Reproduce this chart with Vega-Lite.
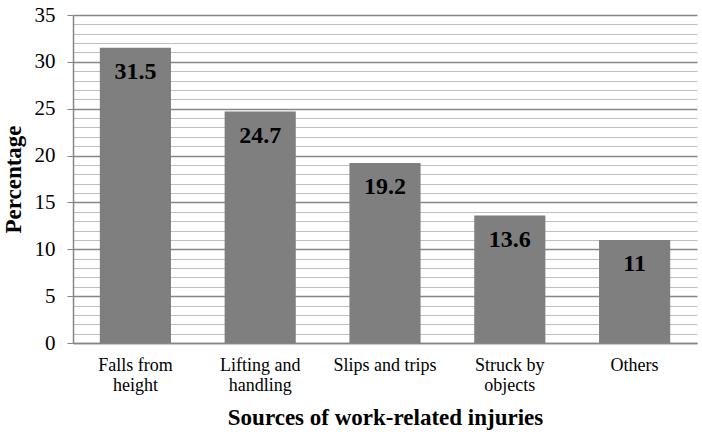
{
  "$schema": "https://vega.github.io/schema/vega-lite/v6.json",
  "autosize": {"type": "none"},
  "padding": {"left": 73, "top": 15, "right": 5, "bottom": 89},
  "width": 624,
  "height": 328,
  "background": "white",
  "config": {
    "view": {"stroke": null},
    "font": "Liberation Serif",
    "axis": {"labelFont": "Liberation Serif", "titleFont": "Liberation Serif"},
    "text": {"font": "Liberation Serif"}
  },
  "data": {
    "values": [
      {"source": "Falls from height", "pct": 31.5},
      {"source": "Lifting and handling", "pct": 24.7},
      {"source": "Slips and trips", "pct": 19.2},
      {"source": "Struck by objects", "pct": 13.6},
      {"source": "Others", "pct": 11}
    ]
  },
  "encoding": {
    "x": {
      "field": "source",
      "type": "nominal",
      "sort": null,
      "scale": {"paddingInner": 0.43, "paddingOuter": 0.215},
      "axis": {
        "title": "Sources of work-related injuries",
        "titleFont": "Liberation Serif",
        "titleFontSize": 23,
        "titleFontWeight": "bold",
        "titleColor": "black",
        "titlePadding": 12,
        "labelAngle": 0,
        "labelFont": "Liberation Serif",
        "labelFontSize": 18,
        "labelColor": "black",
        "labelLineHeight": 20,
        "labelPadding": 13,
        "labelExpr": "datum.label == 'Falls from height' ? ['Falls from', 'height'] : datum.label == 'Lifting and handling' ? ['Lifting and', 'handling'] : datum.label == 'Struck by objects' ? ['Struck by', 'objects'] : datum.label",
        "ticks": false,
        "domainColor": "#868686",
        "domainWidth": 1.5,
        "grid": false
      }
    },
    "y": {
      "field": "pct",
      "type": "quantitative",
      "scale": {"domain": [0, 35], "nice": false},
      "axis": {
        "title": "Percentage",
        "titleFont": "Liberation Serif",
        "titleFontSize": 23,
        "titleFontWeight": "bold",
        "titleColor": "black",
        "titlePadding": 9,
        "values": [0,1,2,3,4,5,6,7,8,9,10,11,12,13,14,15,16,17,18,19,20,21,22,23,24,25,26,27,28,29,30,31,32,33,34,35],
        "labelExpr": "datum.value % 5 === 0 ? datum.label : ''",
        "labelFont": "Liberation Serif",
        "labelFontSize": 21,
        "labelColor": "black",
        "labelPadding": 12,
        "labelOverlap": false,
        "tickSize": 6,
        "tickColor": "#868686",
        "tickOpacity": {"condition": {"test": "datum.value % 5 === 0", "value": 1}, "value": 0},
        "domainColor": "#868686",
        "domainWidth": 1.5,
        "grid": true,
        "gridColor": {"condition": {"test": "datum.value % 5 === 0", "value": "#868686"}, "value": "#bfbfbf"},
        "gridWidth": {"condition": {"test": "datum.value % 5 === 0", "value": 1.5}, "value": 1.2}
      }
    }
  },
  "layer": [
    {"mark": {"type": "bar", "color": "#7f7f7f"}},
    {
      "mark": {"type": "text", "baseline": "middle", "dy": 24, "fontSize": 24, "fontWeight": "bold", "font": "Liberation Serif", "color": "black"},
      "encoding": {"text": {"field": "pct", "type": "quantitative", "format": "~g"}}
    }
  ]
}
